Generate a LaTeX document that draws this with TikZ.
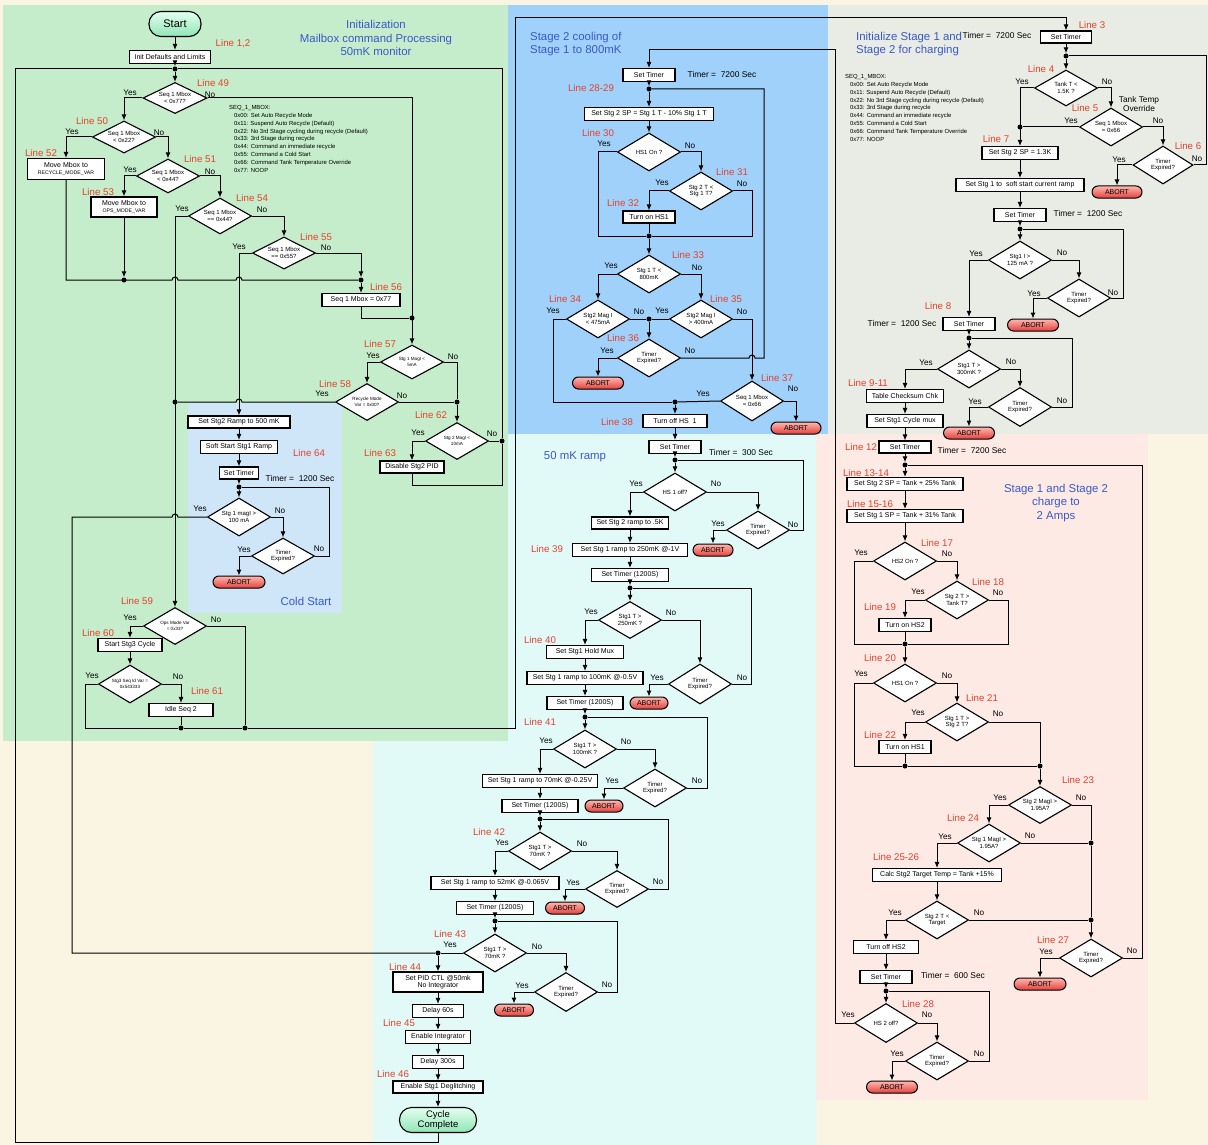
\documentclass[tikz,border=0pt]{standalone}
\usepackage{fontspec}
\setmainfont{Liberation Sans}
\usepackage{tikz}
\usetikzlibrary{arrows.meta}
\usetikzlibrary{shapes.geometric}
\usetikzlibrary{shadows}
\definecolor{paperColor}{HTML}{FAF4E2}
\definecolor{initColor}{HTML}{C5EDCB}
\definecolor{coolColor}{HTML}{A0D1FA}
\definecolor{prepColor}{HTML}{E8ECE4}
\definecolor{rampColor}{HTML}{E1FAF7}
\definecolor{chargeColor}{HTML}{FDEAE5}
\definecolor{coldColor}{HTML}{CFE5F8}
\definecolor{lineColor}{HTML}{E5412B}
\definecolor{titleColor}{HTML}{3A58C8}
\definecolor{abortTop}{HTML}{FFB8B0}
\definecolor{abortBottom}{HTML}{E2413D}
\definecolor{termTop}{HTML}{E4FFF0}
\definecolor{termBottom}{HTML}{8FE5B5}

\begin{document}
\begin{tikzpicture}[x=1pt,y=-1pt]

  \tikzstyle{box} = [draw, fill=white, line width=1.1pt, inner sep=1pt, minimum height=13pt, align=center, font=\fontsize{7}{7.5}\selectfont, drop shadow={shadow xshift=0.7pt, shadow yshift=-0.7pt, opacity=0.18}];
  \tikzstyle{decision} = [diamond, draw, fill=white, line width=1.1pt, aspect=2, inner sep=0pt, minimum width=63pt, minimum height=38pt, align=center, font=\fontsize{6}{6.8}\selectfont, drop shadow={shadow xshift=0.7pt, shadow yshift=-0.7pt, opacity=0.18}];
  \tikzstyle{smallText} = [font=\fontsize{4.6}{5.4}\selectfont];
  \tikzstyle{abort} = [draw, line width=1pt, rounded corners=6pt, top color=abortTop, bottom color=abortBottom, minimum width=51pt, minimum height=12pt, inner sep=1pt, font=\fontsize{7}{7.5}\selectfont, drop shadow={shadow xshift=0.7pt, shadow yshift=-0.7pt, opacity=0.18}];
  \tikzstyle{term} = [draw, line width=1.1pt, rounded corners=12pt, top color=termTop, bottom color=termBottom, minimum height=25pt, inner sep=1pt, align=center, drop shadow={shadow xshift=0.7pt, shadow yshift=-0.7pt, opacity=0.18}];
  \tikzstyle{junction} = [circle, fill=black, inner sep=0pt, minimum size=5pt];
  \tikzstyle{flow} = [line width=1pt, -{Latex[length=6pt,width=5pt]}];
  \tikzstyle{wire} = [line width=1pt];
  \tikzstyle{lineNo} = [text=lineColor, inner sep=0pt, font=\fontsize{9.7}{11}\selectfont];
  \tikzstyle{yn} = [inner sep=0pt, font=\fontsize{8.2}{9}\selectfont];
  \tikzstyle{timer} = [inner sep=0pt, font=\fontsize{8.4}{9}\selectfont];
  \tikzstyle{heading} = [text=titleColor, align=center, inner sep=0pt, font=\fontsize{11.4}{13.5}\selectfont];
  \tikzstyle{memo} = [anchor=north west, align=left, inner sep=0pt, font=\fontsize{5.9}{7.9}\selectfont];

  % backgrounds
  \useasboundingbox (0,0) rectangle (1208,1145);
  \fill[paperColor] (0,0) rectangle (1208,1145);
  \fill[rampColor] (373,434) rectangle (817,1145);
  \fill[chargeColor] (816,434) rectangle (1148,1100);
  \fill[initColor] (3,5) rectangle (508,741);
  \fill[coolColor] (508,5) rectangle (828,434);
  \fill[prepColor] (828,5) rectangle (1208,434);
  \fill[coldColor] (188,403) rectangle (342,613);

  % initialization and mailbox
  \node[heading] (hInit) at (376,38) {Initialization\\Mailbox command Processing\\50mK monitor};
  \node[memo] (mb1) at (229,105) {SEQ\_1\_MBOX:\\
    \hspace*{5pt}0x00: Set Auto Recycle Mode\\
    \hspace*{5pt}0x11: Suspend Auto Recycle (Default)\\
    \hspace*{5pt}0x22: No 3rd Stage cycling during recycle (Default)\\
    \hspace*{5pt}0x33: 3rd Stage during recycle\\
    \hspace*{5pt}0x44: Command an immediate recycle\\
    \hspace*{5pt}0x55: Command a Cold Start\\
    \hspace*{5pt}0x66: Command Tank Temperature Override\\
    \hspace*{5pt}0x77: NOOP};
  \node[term, minimum width=52pt, font=\fontsize{11}{12}\selectfont] (st) at (175,24) {Start};
  \node[box, minimum width=81pt] (init) at (170,57) {Init Defaults and Limits};
  \node[junction] (j0) at (175,69) {};
  \node[decision, minimum width=64pt, minimum height=31pt] (q49) at (175,98) {Seq 1 Mbox\\< 0x77?};
  \node[decision, minimum height=32pt] (q50) at (124,137) {Seq 1 Mbox\\< 0x22?};
  \node[box, minimum width=77pt, minimum height=21pt] (mvr) at (66,169) {Move Mbox to\\{\fontsize{5.2}{6}\selectfont RECYCLE\_MODE\_VAR}};
  \node[decision, minimum height=34pt] (q51) at (168,176) {Seq 1 Mbox\\< 0x44?};
  \node[box, minimum width=66pt, minimum height=20pt] (mvo) at (124,207) {Move Mbox to\\{\fontsize{5.2}{6}\selectfont OPS\_MODE\_VAR}};
  \node[decision, minimum height=36pt] (q54) at (220,216) {Seq 1 Mbox\\== 0x44?};
  \node[decision, minimum height=32pt] (q55) at (284,253) {Seq 1 Mbox\\== 0x55?};
  \node[junction] (j53) at (124,280) {};
  \node[junction] (j56) at (361,280) {};
  \node[box, minimum width=78pt] (nop) at (361,300) {Seq 1 Mbox = 0x77};
  \node[junction] (j57) at (412,318) {};
  \node[decision, smallText, minimum height=34pt] (q57) at (412,362) {Stg 1 MagI <\\5mA};
  \node[decision, smallText, minimum height=37pt] (q58) at (367,402) {Recycle Mode\\Var = 0x00?};
  \node[junction] (j58) at (457,402) {};
  \node[junction] (j54) at (175,402) {};
  \node[decision, smallText, minimum height=37pt] (q62) at (457,441) {Stg 2 MagI <\\10mA};
  \node[junction] (j62) at (502,441) {};
  \node[box, minimum width=64pt, minimum height=12pt] (dis) at (412,467) {Disable Stg2 PID};

  % cold start
  \node[heading] (hCold) at (306,601) {Cold Start};
  \node[box, minimum width=102pt, minimum height=12pt] (ramp) at (239,422) {Set Stg2 Ramp to 500 mK};
  \node[box, minimum width=77pt] (soft) at (239,447) {Soft Start Stg1 Ramp};
  \node[box, minimum width=39pt, minimum height=12pt] (tmc) at (239,473) {Set Timer};
  \node[timer] (ttc) at (300,478) {Timer =~~1200 Sec};
  \node[junction] (jcs) at (239,487) {};
  \node[decision] (qcs) at (239,517) {Stg 1 magI >\\100 mA};
  \node[decision, minimum height=36pt] (qcx) at (283,556) {Timer\\Expired?};
  \node[abort, minimum width=52pt] (abc) at (239,582) {ABORT};

  \node[decision, smallText, minimum height=37pt] (q59) at (175,626) {Ops Mode Var\\= 0x33?};
  \node[box, minimum width=64pt] (stg3) at (130,645) {Start Stg3 Cycle};
  \node[decision, smallText] (q61) at (130,684) {Stg3 Seq Id Var =\\0x543333};
  \node[box, minimum width=64pt] (idle) at (181,710) {Idle Seq 2};
  \node[junction] (j61) at (181,728) {};
  \node[junction] (j59) at (245,728) {};

  % stage 2 cooling
  \node[heading, align=left, anchor=west] (hCool) at (530,44) {Stage 2 cooling of\\Stage 1 to 800mK};
  \node[box, minimum width=52pt] (tm2) at (649,75) {Set Timer};
  \node[timer] (tt2) at (722,74) {Timer =~~7200 Sec};
  \node[junction] (j28) at (649,89) {};
  \node[box, minimum width=129pt] (sp2) at (649,114) {Set Stg 2 SP = Stg 1 T - 10\% Stg 1 T};
  \node[decision] (q30) at (649,152) {HS1 On ?};
  \node[decision] (q31) at (701,191) {Stg 2 T <\\Stg 1 T?};
  \node[box, minimum width=52pt, minimum height=12pt] (hs1) at (649,217) {Turn on HS1};
  \node[junction] (j32) at (649,236) {};
  \node[decision] (q33) at (649,274) {Stg 1 T <\\800mK};
  \node[decision] (q34) at (598,319) {Stg2 Mag I\\< 475mA};
  \node[decision] (q35) at (701,319) {Stg2 Mag I\\> 400mA};
  \node[junction] (j36) at (649,319) {};
  \node[decision] (q36) at (649,358) {Timer\\Expired?};
  \node[abort] (ab36) at (598,383) {ABORT};
  \node[decision, minimum height=40pt] (q37) at (752,401) {Seq 1 Mbox\\= 0x66};
  \node[abort, minimum width=50pt] (ab37) at (796,428) {ABORT};
  \node[junction] (j38) at (675,402) {};
  \node[box, minimum width=64pt] (off1) at (675,421) {Turn off HS~~1};

  % 50 mK ramp
  \node[heading] (hRamp) at (575,457) {50 mK ramp};
  \node[box, minimum width=52pt] (tm3) at (675,447) {Set Timer};
  \node[timer] (tt3) at (741,452) {Timer =~~300 Sec};
  \node[junction] (j3) at (675,460) {};
  \node[decision] (q38) at (675,492) {HS 1 off?};
  \node[box, minimum width=77pt, minimum height=12pt] (r5k) at (630,523) {Set Stg 2 ramp to .5K};
  \node[decision] (x38) at (758,530) {Timer\\Expired?};
  \node[abort, minimum width=40pt] (ab38) at (713,550) {ABORT};
  \node[box, minimum width=115pt] (r250) at (630,550) {Set Stg 1 ramp to 250mK @-1V};
  \node[box, minimum width=77pt] (t250) at (630,575) {Set Timer (1200S)};
  \node[junction] (j39) at (630,588) {};
  \node[decision, minimum height=37pt] (q39) at (630,620) {Stg1 T >\\250mK ?};
  \node[box, minimum width=77pt] (hold) at (585,652) {Set Stg1 Hold Mux};
  \node[decision, minimum height=40pt] (x39) at (700,684) {Timer\\Expired?};
  \node[abort, minimum width=38pt] (ab39) at (649,703) {ABORT};
  \node[box, minimum width=116pt] (r100) at (585,678) {Set Stg 1 ramp to 100mK @-0.5V};
  \node[box, minimum width=76pt] (t100) at (585,703) {Set Timer (1200S)};
  \node[junction] (j41) at (585,717) {};
  \node[decision] (q41) at (585,749) {Stg1 T >\\100mK ?};
  \node[box, minimum width=115pt] (r70) at (540,781) {Set Stg 1 ramp to 70mK @-0.25V};
  \node[decision] (x41) at (655,788) {Timer\\Expired?};
  \node[abort, minimum width=38pt] (ab41) at (604,806) {ABORT};
  \node[box, minimum width=76pt] (t70) at (540,806) {Set Timer (1200S)};
  \node[junction] (j42) at (540,819) {};
  \node[decision] (q42) at (540,851) {Stg1 T >\\70mK ?};
  \node[box, minimum width=128pt] (r52) at (495,883) {Set Stg 1 ramp to 52mK @-0.065V};
  \node[decision, minimum height=37pt] (x42) at (617,889) {Timer\\Expired?};
  \node[abort, minimum width=39pt] (ab42) at (565,908) {ABORT};
  \node[box, minimum width=77pt] (t52) at (495,908) {Set Timer (1200S)};
  \node[junction] (j43b) at (495,921) {};
  \node[decision] (q43) at (495,953) {Stg1 T >\\70mK ?};
  \node[decision, minimum height=39pt] (x43) at (566,992) {Timer\\Expired?};
  \node[abort, minimum width=39pt] (ab43) at (514,1010) {ABORT};
  \node[junction] (j43) at (438,953) {};
  \node[box, minimum width=90pt, minimum height=20pt] (pid) at (438,982) {Set PID CTL @50mk\\No Integrator};
  \node[box, minimum width=51pt] (d60) at (438,1011) {Delay 60s};
  \node[box, minimum width=65pt] (integ) at (438,1037) {Enable Integrator};
  \node[box, minimum width=51pt] (d300) at (438,1062) {Delay 300s};
  \node[box, minimum width=90pt, minimum height=12pt] (degl) at (438,1087) {Enable Stg1 Deglitching};
  \node[term, minimum width=77pt, font=\fontsize{9.5}{10.5}\selectfont] (done) at (438,1120) {Cycle\\Complete};

  % initialize stage 1 and 2
  \node[heading, align=left, anchor=west] (hPrep) at (856,44) {Initialize Stage 1 and\\Stage 2 for charging};
  \node[memo] (mb2) at (845,74) {SEQ\_1\_MBOX:\\
    \hspace*{5pt}0x00: Set Auto Recycle Mode\\
    \hspace*{5pt}0x11: Suspend Auto Recycle (Default)\\
    \hspace*{5pt}0x22: No 3rd Stage cycling during recycle (Default)\\
    \hspace*{5pt}0x33: 3rd Stage during recycle\\
    \hspace*{5pt}0x44: Command an immediate recycle\\
    \hspace*{5pt}0x55: Command a Cold Start\\
    \hspace*{5pt}0x66: Command Tank Temperature Override\\
    \hspace*{5pt}0x77: NOOP};
  \node[box, minimum width=51pt, minimum height=12pt] (tm1) at (1066,37) {Set Timer};
  \node[timer] (tt1) at (997,35) {Timer =~~7200 Sec};
  \node[junction] (j4) at (1066,56) {};
  \node[decision, minimum height=36pt] (q4) at (1066,88) {Tank T <\\1.5K ?};
  \node[align=center, inner sep=0pt, font=\fontsize{8.3}{9.5}\selectfont] (ovr) at (1139,104) {Tank Temp\\Override};
  \node[decision] (q5) at (1111,127) {Seq 1 Mbox\\= 0x66};
  \node[junction] (j5) at (1020,127) {};
  \node[decision, minimum width=60pt] (q6) at (1163,165) {Timer\\Expired?};
  \node[abort, minimum width=50pt] (ab6) at (1117,192) {ABORT};
  \node[box, minimum width=76pt] (sp13) at (1020,153) {Set Stg 2 SP = 1.3K};
  \node[box, minimum width=128pt] (softc) at (1020,185) {Set Stg 1 to~~soft start current ramp};
  \node[box, minimum width=52pt] (tm1200) at (1020,215) {Set Timer};
  \node[timer] (tt1200) at (1088,213) {Timer =~~1200 Sec};
  \node[junction] (j7) at (1020,229) {};
  \node[decision] (q7) at (1020,260) {Stg1 I >\\125 mA ?};
  \node[decision] (x7) at (1079,298) {Timer\\Expired?};
  \node[abort] (ab7) at (1033,325) {ABORT};
  \node[box, minimum width=52pt] (tm8) at (969,324) {Set Timer};
  \node[timer] (tt8) at (902,323) {Timer =~~1200 Sec};
  \node[junction] (j8) at (969,338) {};
  \node[decision] (q8) at (969,369) {Stg1 T >\\300mK ?};
  \node[decision, minimum height=39pt] (x8) at (1020,407) {Timer\\Expired?};
  \node[abort] (ab8) at (969,433) {ABORT};
  \node[box, minimum width=77pt] (chk) at (905,396) {Table Checksum Chk};
  \node[box, minimum width=76pt] (mux) at (905,421) {Set Stg1 Cycle mux};
  \node[box, minimum width=52pt, minimum height=12pt] (tm12) at (905,447) {Set Timer};
  \node[timer] (tt12) at (972,450) {Timer =~~7200 Sec};

  % stage 1 and 2 charge
  \node[heading] (hCharge) at (1056,503) {Stage 1 and Stage 2\\charge to\\2 Amps};
  \node[junction] (j12) at (905,465) {};
  \node[box, minimum width=116pt] (sp25) at (905,484) {Set Stg 2 SP = Tank + 25\% Tank};
  \node[box, minimum width=116pt] (sp31) at (905,516) {Set Stg 1 SP = Tank + 31\% Tank};
  \node[decision] (q17) at (905,561) {HS2 On ?};
  \node[decision] (q18) at (957,600) {Stg 2 T >\\Tank T?};
  \node[box, minimum width=52pt] (hs2) at (905,625) {Turn on HS2};
  \node[junction] (j19) at (905,644) {};
  \node[decision] (q20) at (905,683) {HS1 On ?};
  \node[decision] (q21) at (957,722) {Stg 1 T >\\Stg 2 T?};
  \node[box, minimum width=52pt] (hs1b) at (905,747) {Turn on HS1};
  \node[junction] (j22) at (905,766) {};
  \node[junction] (j23) at (1040,766) {};
  \node[decision, minimum height=37pt] (q23) at (1040,805) {Stg 2 MagI >\\1.95A?};
  \node[decision] (q24) at (989,843) {Stg 1 MagI >\\1.95A?};
  \node[junction] (j24) at (1091,843) {};
  \node[box, minimum width=129pt] (calc) at (937,875) {Calc Stg2 Target Temp = Tank +15\%};
  \node[decision] (q25) at (937,920) {Stg 2 T <\\Target};
  \node[junction] (j25) at (1091,920) {};
  \node[decision] (x27) at (1091,958) {Timer\\Expired?};
  \node[abort, minimum width=52pt] (ab27) at (1040,984) {ABORT};
  \node[box, minimum width=65pt] (off2) at (886,947) {Turn off HS2};
  \node[box, minimum width=52pt] (tm600) at (886,977) {Set Timer};
  \node[timer] (tt600) at (953,975) {Timer =~~600 Sec};
  \node[junction] (j28b) at (886,991) {};
  \node[decision, minimum height=39pt] (q28) at (886,1023) {HS 2 off?};
  \node[decision] (x28) at (937,1061) {Timer\\Expired?};
  \node[abort] (ab28) at (892,1087) {ABORT};

  % line numbers
  \node[lineNo] (l1) at (233,44) {Line 1,2};
  \node[lineNo] (l49) at (213,83) {Line 49};
  \node[lineNo] (l50) at (92,121) {Line 50};
  \node[lineNo] (l52) at (41,153) {Line 52};
  \node[lineNo] (l51) at (200,159) {Line 51};
  \node[lineNo] (l53) at (98,192) {Line 53};
  \node[lineNo] (l54) at (252,198) {Line 54};
  \node[lineNo] (l55) at (316,237) {Line 55};
  \node[lineNo] (l56) at (386,287) {Line 56};
  \node[lineNo] (l57) at (380,344) {Line 57};
  \node[lineNo] (l58) at (335,384) {Line 58};
  \node[lineNo] (l62) at (431,415) {Line 62};
  \node[lineNo] (l63) at (380,453) {Line 63};
  \node[lineNo] (l64) at (309,453) {Line 64};
  \node[lineNo] (l59) at (137,601) {Line 59};
  \node[lineNo] (l60) at (98,633) {Line 60};
  \node[lineNo] (l61) at (207,691) {Line 61};
  \node[lineNo] (l28) at (591,88) {Line 28-29};
  \node[lineNo] (l30) at (598,133) {Line 30};
  \node[lineNo] (l31) at (732,172) {Line 31};
  \node[lineNo] (l32) at (623,203) {Line 32};
  \node[lineNo] (l33) at (688,255) {Line 33};
  \node[lineNo] (l34) at (565,299) {Line 34};
  \node[lineNo] (l35) at (726,299) {Line 35};
  \node[lineNo] (l36) at (623,338) {Line 36};
  \node[lineNo] (l37) at (777,378) {Line 37};
  \node[lineNo] (l38) at (617,422) {Line 38};
  \node[lineNo] (l39) at (547,549) {Line 39};
  \node[lineNo] (l40) at (540,640) {Line 40};
  \node[lineNo] (l41) at (540,722) {Line 41};
  \node[lineNo] (l42) at (489,832) {Line 42};
  \node[lineNo] (l43) at (450,934) {Line 43};
  \node[lineNo] (l44) at (405,967) {Line 44};
  \node[lineNo] (l45) at (399,1023) {Line 45};
  \node[lineNo] (l46) at (393,1074) {Line 46};
  \node[lineNo] (l3) at (1092,25) {Line 3};
  \node[lineNo] (l4) at (1041,69) {Line 4};
  \node[lineNo] (l5) at (1085,108) {Line 5};
  \node[lineNo] (l6) at (1188,146) {Line 6};
  \node[lineNo] (l7) at (996,139) {Line 7};
  \node[lineNo] (l8) at (938,306) {Line 8};
  \node[lineNo] (l9) at (868,383) {Line 9-11};
  \node[lineNo] (l12) at (861,447) {Line 12};
  \node[lineNo] (l13) at (866,473) {Line 13-14};
  \node[lineNo] (l15) at (870,504) {Line 15-16};
  \node[lineNo] (l17) at (937,543) {Line 17};
  \node[lineNo] (l18) at (988,582) {Line 18};
  \node[lineNo] (l19) at (880,607) {Line 19};
  \node[lineNo] (l20) at (880,658) {Line 20};
  \node[lineNo] (l21) at (982,698) {Line 21};
  \node[lineNo] (l22) at (880,735) {Line 22};
  \node[lineNo] (l23) at (1078,780) {Line 23};
  \node[lineNo] (l24) at (963,818) {Line 24};
  \node[lineNo] (l25) at (896,857) {Line 25-26};
  \node[lineNo] (l27) at (1053,940) {Line 27};
  \node[lineNo] (l28b) at (918,1004) {Line 28};

  % yes / no
  \node[yn] (y49) at (130,93) {Yes};  \node[yn] (n49) at (210,95) {No};
  \node[yn] (y50) at (72,132) {Yes};  \node[yn] (n50) at (159,133) {No};
  \node[yn] (y51) at (130,170) {Yes}; \node[yn] (n51) at (210,172) {No};
  \node[yn] (y54) at (182,209) {Yes}; \node[yn] (n54) at (262,210) {No};
  \node[yn] (y55) at (239,247) {Yes}; \node[yn] (n55) at (326,248) {No};
  \node[yn] (y57) at (373,356) {Yes}; \node[yn] (n57) at (453,357) {No};
  \node[yn] (y58) at (322,394) {Yes}; \node[yn] (n58) at (402,396) {No};
  \node[yn] (y62) at (418,433) {Yes}; \node[yn] (n62) at (492,434) {No};
  \node[yn] (ycs) at (200,509) {Yes}; \node[yn] (ncs) at (280,511) {No};
  \node[yn] (ycx) at (244,550) {Yes}; \node[yn] (ncx) at (319,549) {No};
  \node[yn] (y59) at (130,618) {Yes}; \node[yn] (n59) at (216,620) {No};
  \node[yn] (y61) at (92,676) {Yes};  \node[yn] (n61) at (178,677) {No};
  \node[yn] (y30) at (604,144) {Yes}; \node[yn] (n30) at (690,146) {No};
  \node[yn] (y31) at (662,183) {Yes}; \node[yn] (n31) at (742,184) {No};
  \node[yn] (y33) at (611,266) {Yes}; \node[yn] (n33) at (697,268) {No};
  \node[yn] (y34) at (553,311) {Yes}; \node[yn] (n34) at (639,312) {No};
  \node[yn] (y35) at (662,311) {Yes}; \node[yn] (n35) at (742,312) {No};
  \node[yn] (y36) at (607,351) {Yes}; \node[yn] (n36) at (690,351) {No};
  \node[yn] (y37) at (703,394) {Yes}; \node[yn] (n37) at (793,389) {No};
  \node[yn] (y38) at (636,484) {Yes}; \node[yn] (n38) at (716,484) {No};
  \node[yn] (yx38) at (718,524) {Yes}; \node[yn] (nx38) at (793,525) {No};
  \node[yn] (y39) at (591,612) {Yes}; \node[yn] (n39) at (671,613) {No};
  \node[yn] (yx39) at (657,678) {Yes}; \node[yn] (nx39) at (742,678) {No};
  \node[yn] (y41) at (546,741) {Yes}; \node[yn] (n41) at (626,742) {No};
  \node[yn] (yx41) at (612,781) {Yes}; \node[yn] (nx41) at (697,781) {No};
  \node[yn] (y42) at (502,843) {Yes}; \node[yn] (n42) at (582,844) {No};
  \node[yn] (yx42) at (573,883) {Yes}; \node[yn] (nx42) at (658,882) {No};
  \node[yn] (y43) at (450,945) {Yes}; \node[yn] (n43) at (537,947) {No};
  \node[yn] (yx43) at (522,986) {Yes}; \node[yn] (nx43) at (607,985) {No};
  \node[yn] (y4) at (1022,82) {Yes};  \node[yn] (n4) at (1107,82) {No};
  \node[yn] (y5) at (1071,121) {Yes}; \node[yn] (n5) at (1158,121) {No};
  \node[yn] (y6) at (1119,160) {Yes}; \node[yn] (n6) at (1197,159) {No};
  \node[yn] (y7) at (976,254) {Yes};  \node[yn] (n7) at (1062,253) {No};
  \node[yn] (yx7) at (1034,294) {Yes}; \node[yn] (nx7) at (1113,293) {No};
  \node[yn] (y8) at (926,363) {Yes};  \node[yn] (n8) at (1011,362) {No};
  \node[yn] (yx8) at (975,402) {Yes}; \node[yn] (nx8) at (1062,401) {No};
  \node[yn] (y17) at (861,553) {Yes}; \node[yn] (n17) at (947,554) {No};
  \node[yn] (y18) at (918,592) {Yes}; \node[yn] (n18) at (998,593) {No};
  \node[yn] (y20) at (861,674) {Yes}; \node[yn] (n20) at (947,676) {No};
  \node[yn] (y21) at (918,713) {Yes}; \node[yn] (n21) at (998,714) {No};
  \node[yn] (y23) at (1000,798) {Yes}; \node[yn] (n23) at (1081,798) {No};
  \node[yn] (y24) at (945,837) {Yes}; \node[yn] (n24) at (1030,836) {No};
  \node[yn] (y25) at (895,913) {Yes}; \node[yn] (n25) at (979,913) {No};
  \node[yn] (yx27) at (1046,952) {Yes}; \node[yn] (nx27) at (1132,951) {No};
  \node[yn] (y28) at (848,1015) {Yes}; \node[yn] (n28) at (927,1015) {No};
  \node[yn] (yx28) at (897,1054) {Yes}; \node[yn] (nx28) at (979,1054) {No};

  % connectors: initialization
  \draw[flow] (st.south) -- (st.south |- init.north);
  \draw[flow] (j0 |- init.south) -- (j0);
  \draw[flow] (j0) -- (q49);
  \draw[wire] (done) |- (15,1142) |- (j0);
  \draw[wire] (j62) |- (j0);
  \draw[wire] (dis) |- (502,485) -- (j62);
  \draw[wire] (q62.east) -- (j62);
  \draw[flow] (q49.west) -| (q50.north);
  \draw[flow] (q49.east) -| (q57.north);
  \draw[flow] (q50.west) -| (mvr.north);
  \draw[flow] (q50.east) -| (q51.north);
  \draw[flow] (q51.west) -| (mvo.north);
  \draw[flow] (q51.east) -| (q54.north);
  \draw[flow] (q54.west) -| (q59.north);
  \draw[flow] (q54.east) -| (q55.north);
  \draw[flow] (q55.west) -| (ramp.north);
  \draw[flow] (q55.east) -| (j56);
  \draw[wire] (mvr) |- (172,280) arc[start angle=180,end angle=0,radius=3pt] -- (236,280) arc[start angle=180,end angle=0,radius=3pt] -- (j56);
  \draw[flow] (mvo) -- (j53);
  \draw[flow] (j56) -- (nop);
  \draw[wire] (nop) |- (j57);
  \draw[flow] (q57.west) -| (q58.north);
  \draw[wire] (q57.east) -| (j58);
  \draw[wire] (q58.east) -- (j58);
  \draw[flow] (j58) -- (q62);
  \draw[wire] (q58.west) -- (242,402) arc[start angle=0,end angle=180,radius=3pt] -- (j54);
  \draw[flow] (q62.west) -| (dis.north);

  \draw[flow] (ramp) -- (soft);
  \draw[flow] (soft) -- (tmc);
  \draw[flow] (tmc) -- (jcs);
  \draw[flow] (jcs) -- (qcs);
  \draw[flow] (qcs.east) -| (qcx.north);
  \draw[flow] (qcx.west) -| (abc.north);
  \draw[wire] (qcx.east) -- (329,556) |- (jcs);
  \draw[wire] (qcs.west) -- (178,517) arc[start angle=0,end angle=180,radius=3pt] -- (72,517) |- (j43);

  \draw[flow] (q59.west) -| (stg3.north);
  \draw[wire] (q59.east) -| (j59);
  \draw[flow] (stg3) -- (q61);
  \draw[flow] (q61.east) -| (idle.north);
  \draw[wire] (q61.west) -- (85,684) |- (j61);
  \draw[wire] (idle) -- (j61);
  \draw[wire] (j61) -- (j59);
  \draw[flow] (j59) -- (515,728) -- (515,18) -| (tm1.north);

  % connectors: stage 2 cooling
  \draw[flow] (q28.west) -| (835,50) -| (tm2.north);
  \draw[flow] (tm2) -- (j28);
  \draw[flow] (j28) -- (sp2);
  \draw[flow] (sp2) -- (q30);
  \draw[wire] (q30.west) -- (598,152) |- (j32);
  \draw[flow] (q30.east) -| (q31.north);
  \draw[flow] (q31.west) -| (hs1.north);
  \draw[wire] (q31.east) -- (752,191) |- (j32);
  \draw[wire] (hs1) -- (j32);
  \draw[flow] (j32) -- (q33);
  \draw[flow] (q33.west) -| (q34.north);
  \draw[flow] (q33.east) -| (q35.north);
  \draw[wire] (q34.east) -- (j36);
  \draw[wire] (q35.west) -- (j36);
  \draw[flow] (j36) -- (q36);
  \draw[flow] (q36.west) -| (ab36.north);
  \draw[wire] (q36.east) -- (749,358) arc[start angle=180,end angle=0,radius=3pt] -- (764,358) |- (j28);
  \draw[flow] (q35.east) -| (q37.north);
  \draw[flow] (q37.east) -| (ab37.north);
  \draw[wire] (q34.west) -- (553,319) |- (j38);
  \draw[wire] (q37.west) -- (j38);
  \draw[flow] (j38) -- (off1);
  \draw[flow] (off1) -- (tm3);

  % connectors: 50 mK ramp
  \draw[flow] (tm3) -- (j3);
  \draw[flow] (j3) -- (q38);
  \draw[flow] (q38.west) -| (r5k.north);
  \draw[flow] (q38.east) -| (x38.north);
  \draw[flow] (x38.west) -| (ab38.north);
  \draw[wire] (x38.east) -- (803,530) |- (j3);
  \draw[flow] (r5k) -- (r250);
  \draw[flow] (r250) -- (t250);
  \draw[flow] (t250) -- (j39);
  \draw[flow] (j39) -- (q39);
  \draw[flow] (q39.west) -| (hold.north);
  \draw[flow] (q39.east) -| (x39.north);
  \draw[flow] (x39.west) -| (ab39.north);
  \draw[wire] (x39.east) -- (751,684) |- (j39);
  \draw[flow] (hold) -- (r100);
  \draw[flow] (r100) -- (t100);
  \draw[flow] (t100) -- (j41);
  \draw[flow] (j41) -- (q41);
  \draw[flow] (q41.west) -| (r70.north);
  \draw[flow] (q41.east) -| (x41.north);
  \draw[flow] (x41.west) -| (ab41.north);
  \draw[wire] (x41.east) -- (707,788) |- (j41);
  \draw[flow] (r70) -- (t70);
  \draw[flow] (t70) -- (j42);
  \draw[flow] (j42) -- (q42);
  \draw[flow] (q42.west) -| (r52.north);
  \draw[flow] (q42.east) -| (x42.north);
  \draw[flow] (x42.west) -| (ab42.north);
  \draw[wire] (x42.east) -- (668,889) |- (j42);
  \draw[flow] (r52) -- (t52);
  \draw[flow] (t52) -- (j43b);
  \draw[flow] (j43b) -- (q43);
  \draw[wire] (q43.west) -- (j43);
  \draw[flow] (q43.east) -| (x43.north);
  \draw[flow] (x43.west) -| (ab43.north);
  \draw[wire] (x43.east) -- (617,992) |- (j43b);
  \draw[flow] (j43) -- (pid);
  \draw[flow] (pid) -- (d60);
  \draw[flow] (d60) -- (integ);
  \draw[flow] (integ) -- (d300);
  \draw[flow] (d300) -- (degl);
  \draw[flow] (degl) -- (done);

  % connectors: initialize stage 1 and 2
  \draw[flow] (tm1) -- (j4);
  \draw[flow] (j4) -- (q4);
  \draw[flow] (q4.west) -| (sp13.north);
  \draw[flow] (q4.east) -| (q5.north);
  \draw[wire] (q5.west) -- (j5);
  \draw[flow] (q5.east) -| (q6.north);
  \draw[flow] (q6.west) -| (ab6.north);
  \draw[wire] (q6.east) -- (1206,165) |- (j4);
  \draw[flow] (sp13) -- (softc);
  \draw[flow] (softc) -- (tm1200);
  \draw[flow] (tm1200) -- (j7);
  \draw[flow] (j7) -- (q7);
  \draw[flow] (q7.west) -| (tm8.north);
  \draw[flow] (q7.east) -| (x7.north);
  \draw[flow] (x7.west) -| (ab7.north);
  \draw[wire] (x7.east) -- (1123,298) |- (j7);
  \draw[flow] (tm8) -- (j8);
  \draw[flow] (j8) -- (q8);
  \draw[flow] (q8.west) -| (chk.north);
  \draw[flow] (q8.east) -| (x8.north);
  \draw[flow] (x8.west) -| (ab8.north);
  \draw[wire] (x8.east) -- (1072,407) |- (j8);
  \draw[flow] (chk) -- (mux);
  \draw[flow] (mux) -- (tm12);
  \draw[flow] (tm12) -- (j12);
  \draw[flow] (j12) -- (sp25);

  % connectors: stage 1 and 2 charge
  \draw[flow] (sp25) -- (sp31);
  \draw[flow] (sp31) -- (q17);
  \draw[wire] (q17.west) -- (854,561) |- (j19);
  \draw[flow] (q17.east) -| (q18.north);
  \draw[flow] (q18.west) -| (hs2.north);
  \draw[wire] (q18.east) -- (1008,600) |- (j19);
  \draw[wire] (hs2) -- (j19);
  \draw[flow] (j19) -- (q20);
  \draw[wire] (q20.west) -- (854,683) |- (j22);
  \draw[flow] (q20.east) -| (q21.north);
  \draw[flow] (q21.west) -| (hs1b.north);
  \draw[wire] (q21.east) -| (j23);
  \draw[wire] (hs1b) -- (j22);
  \draw[wire] (j22) -- (j23);
  \draw[flow] (j23) -- (q23);
  \draw[flow] (q23.west) -| (q24.north);
  \draw[wire] (q23.east) -| (j24);
  \draw[wire] (q24.east) -- (j24);
  \draw[flow] (q24.west) -| (calc.north);
  \draw[flow] (calc) -- (q25);
  \draw[flow] (q25.west) -| (off2.north);
  \draw[wire] (q25.east) -- (j25);
  \draw[wire] (j24) -- (j25);
  \draw[flow] (j25) -- (x27);
  \draw[flow] (x27.west) -| (ab27.north);
  \draw[wire] (x27.east) -- (1142,958) |- (j12);
  \draw[flow] (off2) -- (tm600);
  \draw[flow] (tm600) -- (j28b);
  \draw[flow] (j28b) -- (q28);
  \draw[flow] (q28.east) -| (x28.north);
  \draw[flow] (x28.west) -| (ab28.north);
  \draw[wire] (x28.east) -- (989,1061) |- (j28b);

\end{tikzpicture}
\end{document}
